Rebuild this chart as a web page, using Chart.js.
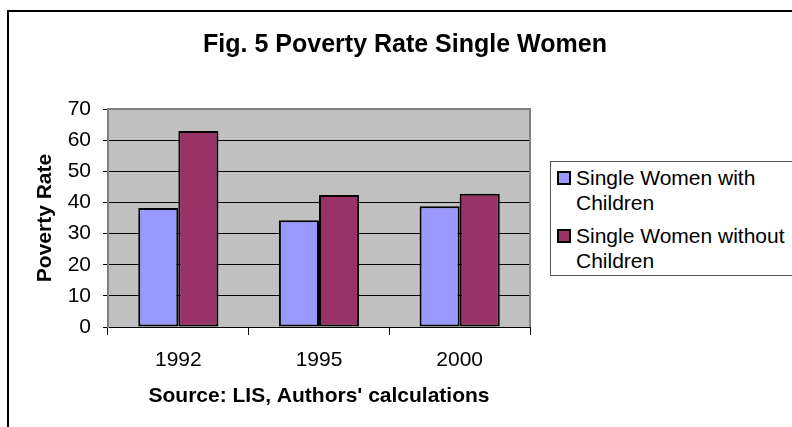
<!DOCTYPE html>
<html>
<head>
<meta charset="utf-8">
<script src="https://cdn.jsdelivr.net/npm/chart.js@4/dist/chart.umd.min.js"></script>
<style>
  html, body { margin: 0; padding: 0; background: #fff; overflow: hidden; }
  #wrap { position: relative; width: 792px; height: 427px; overflow: hidden; }
  #frame { position: absolute; left: 7px; top: 10px; width: 900px; height: 600px; border: 2px solid #000; box-sizing: border-box; pointer-events: none; }
  #chartBox { position: absolute; left: 0; top: 0; width: 792px; height: 427px; }
  #legend { position: absolute; left: 550px; top: 161px; width: 400px; height: 115px; box-sizing: border-box;
            border: 1px solid #555; background: #fff; padding: 3px 0 0 0;
            font-family: "Liberation Sans", Arial, sans-serif; font-size: 21px; line-height: 25px; color: #000; }
  .item { position: relative; padding-left: 25px; width: 220px; margin-bottom: 8px; }
  .sw { position: absolute; left: 6px; top: 6px; width: 10px; height: 10px; border: 2px solid #000; }
</style>
</head>
<body>
<div id="wrap">
  <div id="chartBox"><canvas id="c" width="792" height="427"></canvas></div>
  <div id="frame"></div>
  <div id="legend"></div>
</div>
<script>
const TITLE = "Fig. 5 Poverty Rate Single Women";
const Y_TITLE = "Poverty Rate";
const X_TITLE = "Source: LIS, Authors' calculations";
const categories = ["1992", "1995", "2000"];
const seriesNames = ["Single Women with Children", "Single Women without Children"];
const withChildren = [38.2, 34.3, 38.8];
const withoutChildren = [62.9, 42.4, 42.8];
const colors = ["#9999FF", "#993366"];
const yTicks = [0, 10, 20, 30, 40, 50, 60, 70];

Chart.defaults.font.family = '"Liberation Sans", Arial, sans-serif';
Chart.defaults.color = '#000';

const plotDeco = {
  id: 'plotDeco',
  beforeDraw(chart) {
    const { ctx, chartArea: a } = chart;
    ctx.save();
    ctx.fillStyle = '#C0C0C0';
    ctx.fillRect(a.left, a.top, a.right - a.left, a.bottom - a.top);
    ctx.restore();
  },
  afterDraw(chart) {
    const { ctx, chartArea: a } = chart;
    ctx.save();
    ctx.strokeStyle = '#808080';
    ctx.lineWidth = 2;
    ctx.beginPath();
    ctx.moveTo(a.left, a.bottom);
    ctx.lineTo(a.left, a.top);
    ctx.lineTo(a.right, a.top);
    ctx.lineTo(a.right, a.bottom);
    ctx.stroke();
    ctx.fillStyle = '#000';
    ctx.font = 'bold 25px "Liberation Sans", Arial, sans-serif';
    ctx.textAlign = 'center';
    ctx.textBaseline = 'alphabetic';
    ctx.fillText(TITLE, 405, 52);
    ctx.restore();
  }
};

new Chart(document.getElementById('c'), {
  type: 'bar',
  data: {
    labels: categories,
    datasets: [
      { label: seriesNames[0], data: withChildren, backgroundColor: colors[0], borderColor: '#000', borderWidth: 2, borderSkipped: false },
      { label: seriesNames[1], data: withoutChildren, backgroundColor: colors[1], borderColor: '#000', borderWidth: 2, borderSkipped: false }
    ]
  },
  options: {
    responsive: true,
    maintainAspectRatio: false,
    animation: false,
    devicePixelRatio: 1,
    layout: { padding: { top: 109, right: 262, left: 0, bottom: 0 } },
    datasets: { bar: { categoryPercentage: 0.57, barPercentage: 1.0 } },
    plugins: { legend: { display: false }, title: { display: false }, tooltip: { enabled: false } },
    scales: {
      x: {
        grid: { offset: true, drawOnChartArea: false, drawTicks: true, tickLength: 8, tickColor: '#000', tickWidth: 1 },
        border: { color: '#000', width: 1 },
        ticks: { font: { size: 21 }, padding: 13, color: '#000', maxRotation: 0 },
        title: { display: true, text: X_TITLE, font: { size: 21, weight: 'bold' }, padding: { top: 0, bottom: 18.6 }, color: '#000' },
        afterFit(s) { s.height = 100; }
      },
      y: {
        min: 0, max: 70,
        afterBuildTicks(s) { s.ticks = yTicks.map(v => ({ value: v })); },
        grid: { color: '#000', lineWidth: 1, drawTicks: true, tickLength: 5, tickColor: '#000' },
        border: { color: '#808080', width: 2 },
        ticks: { font: { size: 21 }, padding: 12, color: '#000' },
        title: { display: true, text: Y_TITLE, font: { size: 21, weight: 'bold' }, padding: { top: 32.4, bottom: 0 }, color: '#000' },
        afterFit(s) { s.width = 108; }
      }
    }
  },
  plugins: [plotDeco]
});

const legend = document.getElementById('legend');
seriesNames.forEach((name, i) => {
  const item = document.createElement('div');
  item.className = 'item';
  const sw = document.createElement('span');
  sw.className = 'sw';
  sw.style.background = colors[i];
  item.appendChild(sw);
  item.appendChild(document.createTextNode(name));
  legend.appendChild(item);
});
</script>
</body>
</html>
